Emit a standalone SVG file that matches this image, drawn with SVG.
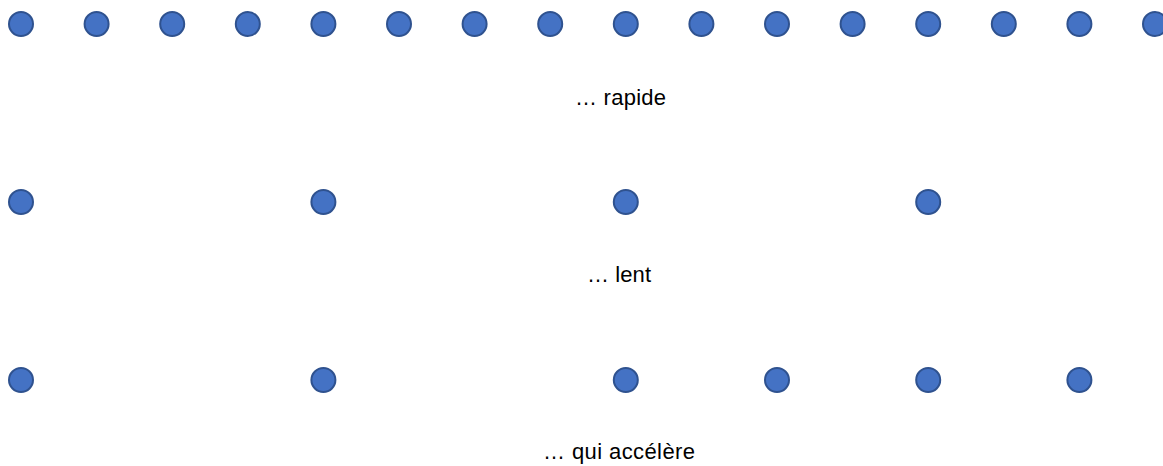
<svg xmlns="http://www.w3.org/2000/svg" width="1163" height="466" viewBox="0 0 1163 466">
<style>
.dot{fill:#4472C4;stroke:#2F528F;stroke-width:2}
.lbl{font-family:"Liberation Sans","Open Sans",sans-serif;font-size:22px;fill:#000}
</style>
<defs><circle id="d" r="12" class="dot"/></defs>
<rect width="1163" height="466" fill="#fff"/>
<g id="row-rapide">
<use href="#d" x="21" y="24"/><use href="#d" x="96.6" y="24"/><use href="#d" x="172.2" y="24"/><use href="#d" x="247.8" y="24"/>
<use href="#d" x="323.4" y="24"/><use href="#d" x="399" y="24"/><use href="#d" x="474.6" y="24"/><use href="#d" x="550.2" y="24"/>
<use href="#d" x="625.8" y="24"/><use href="#d" x="701.4" y="24"/><use href="#d" x="777" y="24"/><use href="#d" x="852.6" y="24"/>
<use href="#d" x="928.2" y="24"/><use href="#d" x="1003.8" y="24"/><use href="#d" x="1079.4" y="24"/><use href="#d" x="1155" y="24"/>
<text class="lbl" x="575" y="105" textLength="91" lengthAdjust="spacing">… rapide</text>
</g>
<g id="row-lent">
<use href="#d" x="21" y="202"/><use href="#d" x="323.4" y="202"/><use href="#d" x="625.8" y="202"/><use href="#d" x="928.2" y="202"/>
<text class="lbl" x="587" y="282" textLength="64" lengthAdjust="spacing">… lent</text>
</g>
<g id="row-accel">
<use href="#d" x="21" y="380"/><use href="#d" x="323.4" y="380"/><use href="#d" x="625.8" y="380"/><use href="#d" x="777" y="380"/><use href="#d" x="928.2" y="380"/><use href="#d" x="1079.4" y="380"/>
<text class="lbl" x="543" y="459" textLength="152" lengthAdjust="spacing">… qui accélère</text>
</g>
<g id="connectors"/>
</svg>
